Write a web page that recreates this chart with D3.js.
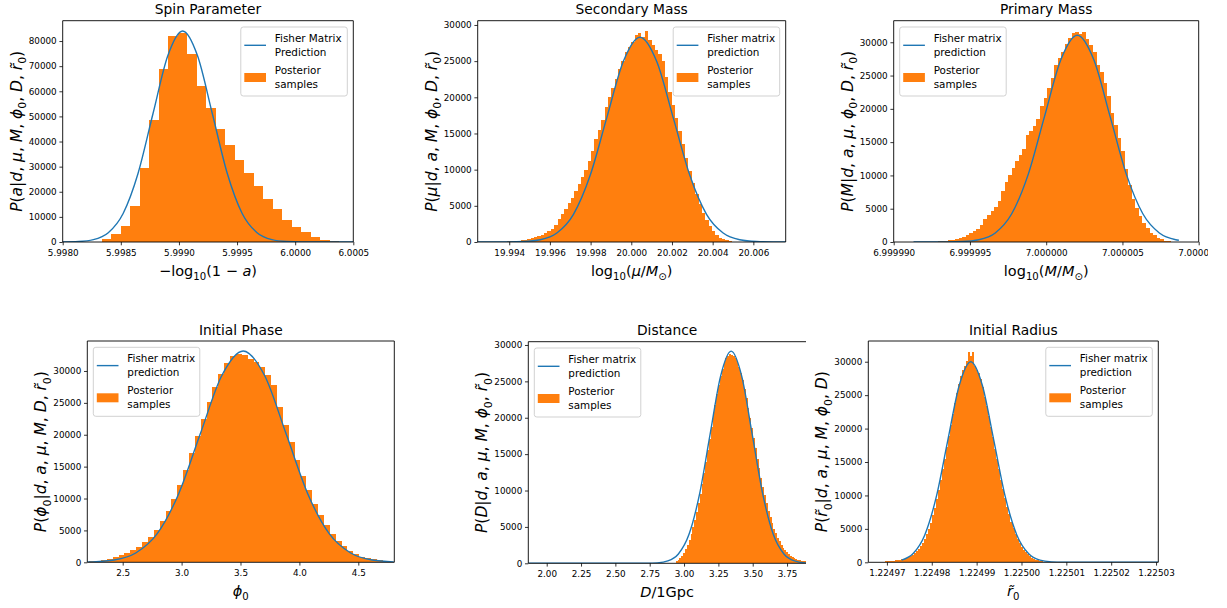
<!DOCTYPE html>
<html><head><meta charset="utf-8">
<script src="https://cdn.jsdelivr.net/npm/d3@7"></script>
<style>body{margin:0;background:#fff}svg{display:block}text{white-space:pre}</style>
</head><body>
<svg id="c" width="1227" height="608"></svg>
<script>
// ---------------- DATA ----------------
// Spin parameter
const spinBinStart = 5.998336, spinBinWidth = 0.0000817;
const spinCounts = [1200, 3200, 6400, 14300, 29500, 48600, 68900, 82000, 83300, 74800, 62100, 53300, 45000, 38600, 32600, 27500, 22400, 17100, 13100, 8800, 6000, 3800, 2000, 900, 500];
const spinCurveX = [5.998000, 5.998136, 5.998264, 5.998392, 5.998520, 5.998648, 5.998776, 5.998904, 5.999032, 5.999160, 5.999288, 5.999416, 5.999544, 5.999672, 5.999800, 5.999928, 6.000056, 6.000312, 6.000500];
const spinCurveY = [25, 185, 932, 3688, 11365, 27275, 50946, 74130, 84000, 74130, 50946, 27275, 11365, 3688, 932, 185, 28, 0, 0];
const spinXTicks = [5.9980, 5.9985, 5.9990, 5.9995, 6.0000, 6.0005];
const spinYTicks = [0, 10000, 20000, 30000, 40000, 50000, 60000, 70000, 80000];

// Secondary mass
const secBinStart = 19.9939, secBinWidth = 0.000165;
const secCounts = [90, 140, 140, 180, 230, 320, 410, 600, 650, 780, 970, 1200, 1470, 1840, 2400, 3130, 3870, 4610, 5350, 6080, 7000, 8020, 8940, 10000, 11150, 12530, 14290, 15530, 16910, 18710, 20090, 21290, 22530, 23960, 25070, 26270, 26910, 27650, 28570, 28890, 28300, 29220, 27930, 27280, 26590, 25990, 24980, 22800, 20800, 19000, 17200, 15400, 13500, 11600, 9800, 8100, 6600, 5300, 4000, 3000, 2200, 1500, 1000, 620, 380, 220, 120];
const secCurveX = [19.992253, 19.993070, 19.993888, 19.994706, 19.995523, 19.996341, 19.997158, 19.997976, 19.998793, 19.999611, 20.000428, 20.001246, 20.002063, 20.002881, 20.003698, 20.004516, 20.005333, 20.006151, 20.006968, 20.007786];
const secCurveY = [0, 1, 9, 62, 314, 1242, 3830, 9189, 17164, 24975, 28300, 24975, 17164, 9189, 3830, 1242, 314, 62, 9, 1];
const secXTicks = [19.994, 19.996, 19.998, 20.000, 20.002, 20.004, 20.006];

// Primary mass
const priBinStart = 6.999992874, priBinWidth = 0.0000002317;
const priCounts = [100, 150, 200, 250, 350, 450, 600, 800, 1000, 1300, 1600, 2000, 2600, 3400, 4100, 4700, 5300, 6200, 7600, 9000, 10100, 11100, 12100, 13100, 14000, 16000, 16600, 17400, 18400, 20400, 21600, 23100, 24600, 26600, 27700, 28600, 29700, 30700, 31400, 31600, 31200, 31600, 30500, 29600, 28600, 26600, 25600, 23900, 21900, 19400, 17600, 15600, 13600, 11000, 8600, 6400, 5100, 3900, 2850, 2100, 1350, 1000, 600, 400, 200, 100];
const priCurveX = [6.9999913, 6.99999235, 6.99999343, 6.9999945, 6.99999558, 6.99999666, 6.99999773, 6.99999881, 6.999999887, 7.000000964, 7.00000204, 7.000003117, 7.000004193, 7.00000527, 7.000006346, 7.00000742, 7.0000085, 7.0000087];
const priCurveY = [0, 1, 10, 68, 345, 1362, 4202, 10082, 18832, 27403, 31050, 27403, 18832, 10082, 4202, 1362, 345, 260];
const priXTicks = [6.99999, 6.999995, 7.0, 7.000005, 7.00001];

// Initial phase
const phaseBinStart = 2.2162, phaseBinWidth = 0.0498;
const phaseCounts = [150, 250, 380, 560, 800, 1100, 1450, 1900, 2450, 3150, 3900, 5000, 6400, 8100, 10000, 12100, 14500, 17100, 19800, 22500, 25100, 27500, 29600, 31200, 32300, 32700, 32500, 31800, 31400, 30700, 29300, 27850, 24400, 21600, 18800, 16100, 13600, 11300, 9200, 7400, 5800, 4500, 3400, 2500, 1800, 1250, 900, 650, 450, 300, 200, 120];
const phaseCurveX = [2.2, 2.2455, 2.428, 2.6105, 2.793, 2.9755, 3.158, 3.3405, 3.523, 3.7055, 3.888, 4.0705, 4.253, 4.4355, 4.618, 4.8005];
const phaseCurveY = [46, 72, 368, 1455, 4485, 10761, 20100, 29247, 33140, 29247, 20100, 10761, 4485, 1455, 368, 72];
const phaseXTicks = [2.5, 3.0, 3.5, 4.0, 4.5];

// Distance
const distBinStart = 2.94, distBinWidth = 0.0134;
const distCounts = [300, 500, 750, 1050, 1450, 1950, 2550, 3250, 4050, 4950, 5950, 7050, 8250, 9550, 10950, 12400, 13950, 15500, 17100, 18700, 20250, 21750, 23200, 24500, 25700, 26750, 27600, 28200, 28550, 28700, 28650, 28500, 28200, 27700, 27000, 26150, 25150, 24000, 22750, 21400, 20000, 18600, 17200, 15800, 14400, 13050, 11750, 10500, 9350, 8250, 7250, 6350, 5500, 4750, 4100, 3500, 3000, 2550, 2150, 1800, 1500, 1250, 1050, 880, 730, 610, 510, 430, 360, 300, 250, 200];
const distCurveX = [1.866, 2.4208, 2.5745, 2.7282, 2.8051, 2.8819, 2.9588, 3.0356, 3.1125, 3.1893, 3.2662, 3.343, 3.4199, 3.4967, 3.5736, 3.6504, 3.7273, 3.8041, 3.881, 3.9578];
const distCurveY = [0, 0, 0, 10, 63, 324, 1280, 3945, 9465, 17680, 25726, 29150, 25726, 17680, 9465, 3945, 1280, 324, 63, 10];
const distXTicks = [2.00, 2.25, 2.50, 2.75, 3.00, 3.25, 3.50, 3.75];

// Initial radius
const radBinStart = 1.2249692, radBinWidth = 0.00000045;
const radCounts = [100, 120, 140, 170, 200, 230, 270, 320, 380, 450, 530, 620, 740, 900, 1100, 1350, 1650, 2000, 2450, 2950, 3550, 4250, 5050, 5950, 7000, 8150, 9400, 10800, 12300, 13900, 15500, 17200, 18900, 20600, 22200, 23800, 25300, 26600, 27800, 28800, 29400, 30100, 31400, 30800, 31400, 29400, 28700, 28300, 27400, 26200, 24700, 23400, 21900, 20300, 18700, 17000, 15500, 13900, 12350, 10900, 9550, 8300, 7150, 6100, 5150, 4300, 3550, 2900, 2350, 1900, 1500, 1180, 920, 700, 530, 390, 280, 200, 140, 90];
const radCurveX = [1.22497328, 1.22497585, 1.22497842, 1.22498099, 1.22498356, 1.22498613, 1.2249887, 1.22499127, 1.22499384, 1.22499641, 1.22499898, 1.22500155, 1.22500412, 1.22500669, 1.22500926, 1.2250144, 1.2250305];
const radCurveY = [333, 1318, 4060, 9740, 18196, 26475, 30000, 26475, 18196, 9740, 4060, 1318, 333, 66, 10, 0, 0];
const radXTicks = [1.22497, 1.22498, 1.22499, 1.22500, 1.22501, 1.22502, 1.22503];

const yTicks30k = [0, 5000, 10000, 15000, 20000, 25000, 30000];

// ---------------- LAYOUT ----------------
const FONT = "DejaVu Sans, sans-serif";
const C_BAR = "#ff7f0e", C_LINE = "#1f77b4";
const I = "i", N = "n", S = "s";
const r0 = "r\u0303";

const panels = [
  {title:"Spin Parameter", box:[62.7,353.3,20.7,242], xd:[5.9980,6.0005], yd:[0,88100],
   xt:spinXTicks, xf:".4f", yt:spinYTicks, start:spinBinStart, width:spinBinWidth, counts:spinCounts,
   cx:spinCurveX, cy:spinCurveY, leg:"right", l1:["Fisher Matrix","Prediction"],
   ylab:[["P",I],["(",N],["a",I],["|",N],["d",I],[", ",N],["μ",I],[", ",N],["M",I],[", ",N],["ϕ",I],["0",S],[", ",N],["D",I],[", ",N],[r0,I],["0",S],[")",N]],
   xlab:[["−log",N],["10",S],["(1 − ",N],["a",I],[")",N]]},
  {title:"Secondary Mass", box:[477.7,785.7,20.7,242], xd:[19.99245,20.00759], yd:[0,30590],
   xt:secXTicks, xf:".3f", yt:yTicks30k, start:secBinStart, width:secBinWidth, counts:secCounts,
   cx:secCurveX, cy:secCurveY, leg:"right", l1:["Fisher matrix","prediction"],
   ylab:[["P",I],["(",N],["μ",I],["|",N],["d",I],[", ",N],["a",I],[", ",N],["M",I],[", ",N],["ϕ",I],["0",S],[", ",N],["D",I],[", ",N],[r0,I],["0",S],[")",N]],
   xlab:[["log",N],["10",S],["(",N],["μ",I],["/",N],["M",I],["⊙",S],[")",N]]},
  {title:"Primary Mass", box:[893.7,1198.7,20.7,242], xd:[6.99999,7.00001], yd:[0,33240], clipX:1208,
   xt:priXTicks, xf:".6f", yt:yTicks30k, start:priBinStart, width:priBinWidth, counts:priCounts,
   cx:priCurveX, cy:priCurveY, leg:"left", l1:["Fisher matrix","prediction"],
   ylab:[["P",I],["(",N],["M",I],["|",N],["d",I],[", ",N],["a",I],[", ",N],["μ",I],[", ",N],["ϕ",I],["0",S],[", ",N],["D",I],[", ",N],[r0,I],["0",S],[")",N]],
   xlab:[["log",N],["10",S],["(",N],["M",I],["/",N],["M",I],["⊙",S],[")",N]]},
  {title:"Initial Phase", box:[87.3,394.3,341,562.3], xd:[2.1995,4.8056], yd:[0,34700],
   xt:phaseXTicks, xf:".1f", yt:yTicks30k, start:phaseBinStart, width:phaseBinWidth, counts:phaseCounts,
   cx:phaseCurveX, cy:phaseCurveY, leg:"left", l1:["Fisher matrix","prediction"],
   ylab:[["P",I],["(",N],["ϕ",I],["0",S],["|",N],["d",I],[", ",N],["a",I],[", ",N],["μ",I],[", ",N],["M",I],[", ",N],["D",I],[", ",N],[r0,I],["0",S],[")",N]],
   xlab:[["ϕ",I],["0",S]]},
  {title:"Distance", box:[528.3,806,341.7,563.3], xd:[1.866,3.888], yd:[0,30450], noRight:true, clipX:806,
   xt:distXTicks, xf:".2f", yt:yTicks30k, start:distBinStart, width:distBinWidth, counts:distCounts,
   cx:distCurveX, cy:distCurveY, leg:"left", l1:["Fisher matrix","prediction"],
   ylab:[["P",I],["(",N],["D",I],["|",N],["d",I],[", ",N],["a",I],[", ",N],["μ",I],[", ",N],["M",I],[", ",N],["ϕ",I],["0",S],[", ",N],[r0,I],["0",S],[")",N]],
   xlab:[["D",I],["/1Gpc",N]]},
  {title:"Initial Radius", box:[868.3,1158.3,341,562.3], xd:[1.22496585,1.2250305], yd:[0,33100],
   xt:radXTicks, xf:".5f", yt:yTicks30k, start:radBinStart, width:radBinWidth, counts:radCounts,
   cx:radCurveX, cy:radCurveY, leg:"right", l1:["Fisher matrix","prediction"],
   ylab:[["P",I],["(",N],[r0,I],["0",S],["|",N],["d",I],[", ",N],["a",I],[", ",N],["μ",I],[", ",N],["M",I],[", ",N],["ϕ",I],["0",S],[", ",N],["D",I],[")",N]],
   xlab:[[r0,I],["0",S]]}
];

const svg = d3.select("#c");
svg.append("rect").attr("width",1227).attr("height",608).attr("fill","#fff");
const defs = svg.append("defs");

function rich(t, segs, size) {
  let shift = 0;
  segs.forEach(([s, st]) => {
    const ts = t.append("tspan").text(s);
    const want = st === S ? size * 0.28 : 0;
    if (want !== shift) { ts.attr("dy", want - shift); shift = want; }
    if (st === S) ts.attr("font-size", size * 0.7);
    if (st === I) ts.attr("font-style", "italic");
  });
}

panels.forEach((p, pi) => {
  const [L, R, T, B] = p.box;
  const g = svg.append("g").attr("font-family", FONT);
  if (p.clipX) {
    defs.append("clipPath").attr("id", "gc" + pi).append("rect")
      .attr("x", 0).attr("y", 0).attr("width", p.clipX).attr("height", 608);
    g.attr("clip-path", `url(#gc${pi})`);
  }
  defs.append("clipPath").attr("id", "pc" + pi).append("rect")
    .attr("x", L).attr("y", T).attr("width", R - L).attr("height", B - T);

  const x = d3.scaleLinear().domain(p.xd).range([L, R]);
  const y = d3.scaleLinear().domain(p.yd).range([B, T]);

  const plot = g.append("g").attr("clip-path", `url(#pc${pi})`);
  plot.selectAll("rect.bar").data(p.counts).join("rect").attr("class", "bar")
    .attr("x", (d, i) => x(p.start + i * p.width))
    .attr("width", (d, i) => x(p.start + (i + 1) * p.width) - x(p.start + i * p.width))
    .attr("y", d => y(d))
    .attr("height", d => y(0) - y(d))
    .attr("fill", C_BAR)
    .attr("shape-rendering", "crispEdges");

  const line = d3.line().x((d, i) => x(p.cx[i])).y(d => y(d)).curve(d3.curveMonotoneX);
  plot.append("path").attr("d", line(p.cy)).attr("fill", "none")
    .attr("stroke", C_LINE).attr("stroke-width", 1.4).attr("stroke-linejoin", "round");

  // axes
  const xa = g.append("g").attr("transform", `translate(0,${B})`)
    .call(d3.axisBottom(x).tickValues(p.xt).tickFormat(d3.format(p.xf)).tickSize(3.3).tickPadding(4.5).tickSizeOuter(0));
  const ya = g.append("g").attr("transform", `translate(${L},0)`)
    .call(d3.axisLeft(y).tickValues(p.yt).tickFormat(d3.format("d")).tickSize(3.3).tickPadding(2.7).tickSizeOuter(0));
  [xa, ya].forEach(a => {
    a.select(".domain").remove();
    a.attr("font-family", FONT).attr("font-size", 8.8);
    a.selectAll("line").attr("stroke", "#000").attr("stroke-width", 0.8);
    a.selectAll("text").attr("fill", "#000");
  });

  // spines
  const sp = g.append("g").attr("stroke", "#000").attr("stroke-width", 0.9).attr("fill", "none");
  sp.append("line").attr("x1", L).attr("x2", L).attr("y1", T).attr("y2", B);
  sp.append("line").attr("x1", L).attr("x2", R).attr("y1", B).attr("y2", B);
  sp.append("line").attr("x1", L).attr("x2", R).attr("y1", T).attr("y2", T);
  if (!p.noRight) sp.append("line").attr("x1", R).attr("x2", R).attr("y1", T).attr("y2", B);

  // title
  g.append("text").attr("x", (L + R) / 2).attr("y", T - 6.5).attr("text-anchor", "middle")
    .attr("font-size", 13.8).attr("fill", "#000").text(p.title);

  // x label
  const xl = g.append("text").attr("x", (L + R) / 2).attr("y", B + 34).attr("text-anchor", "middle")
    .attr("font-size", 14.5).attr("fill", "#000");
  rich(xl, p.xlab, 14.5);

  // y label
  const yl = g.append("text").attr("transform", `translate(${L - 41},${(T + B) / 2}) rotate(-90)`)
    .attr("text-anchor", "middle").attr("font-size", 15.5).attr("fill", "#000");
  rich(yl, p.ylab, 15.5);

  // legend
  const lw = 106.5, lh = 69;
  const bx = p.leg === "right" ? R - 6 - lw : L + 6;
  const by = T + 6.3;
  const lg = g.append("g");
  lg.append("rect").attr("x", bx).attr("y", by).attr("width", lw).attr("height", lh).attr("rx", 2.5)
    .attr("fill", "#fff").attr("fill-opacity", 0.8).attr("stroke", "#cccccc").attr("stroke-width", 0.9);
  lg.append("line").attr("x1", bx + 3.5).attr("x2", bx + 25.2).attr("y1", by + 18.3).attr("y2", by + 18.3)
    .attr("stroke", C_LINE).attr("stroke-width", 1.4);
  lg.append("rect").attr("x", bx + 3.5).attr("y", by + 46).attr("width", 21.7).attr("height", 9).attr("fill", C_BAR);
  const texts = [p.l1[0], p.l1[1], "Posterior", "samples"];
  const bl = [14.8, 29, 47, 61];
  texts.forEach((t, i) => lg.append("text").attr("x", bx + 34).attr("y", by + bl[i])
    .attr("font-size", 10.4).attr("fill", "#000").text(t));
});
</script>
</body></html>
